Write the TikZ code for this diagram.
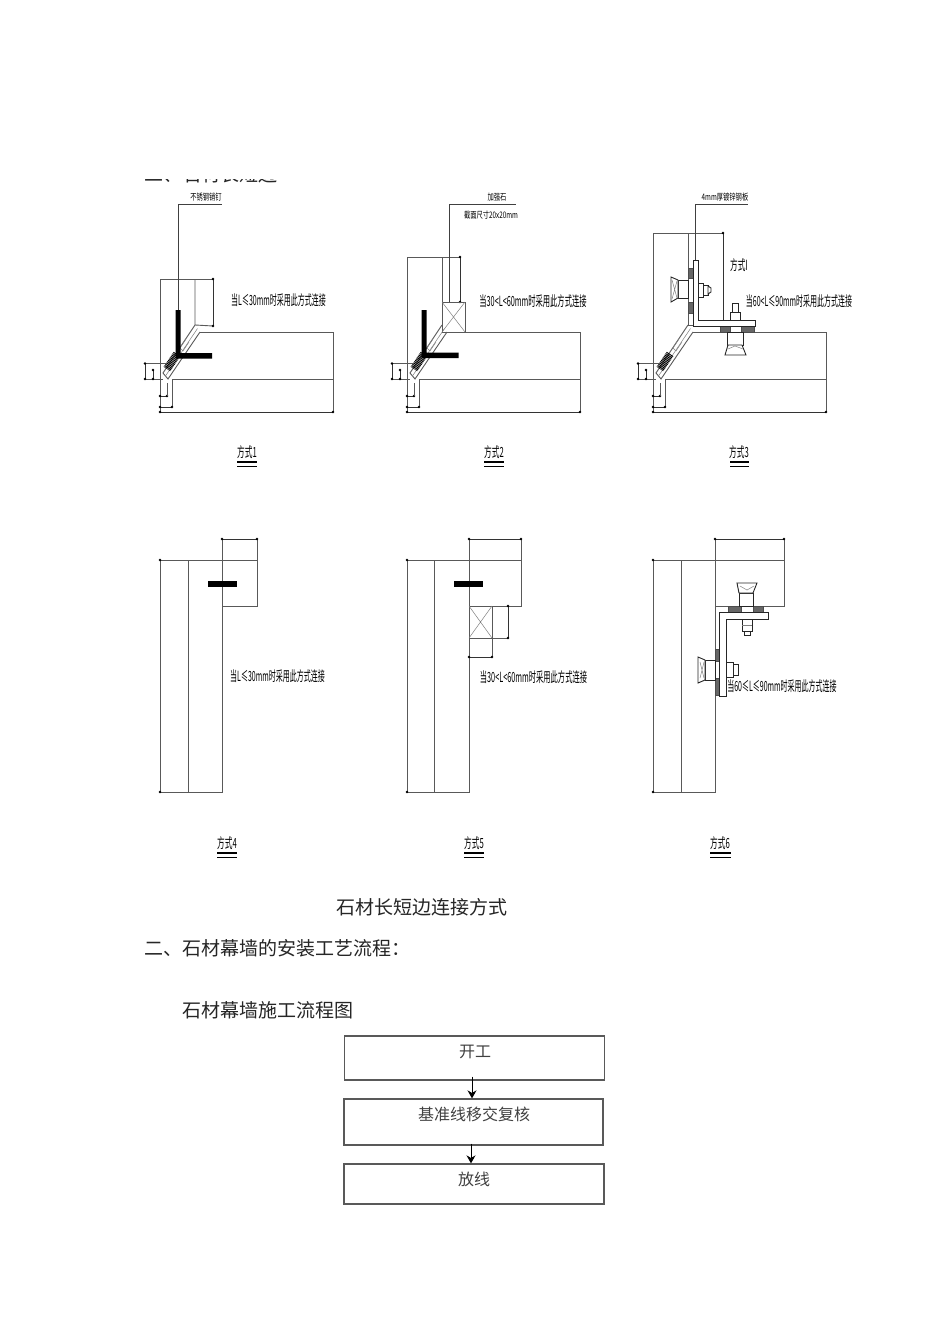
\documentclass[tikz,border=0pt]{standalone}
\usepackage{fontspec}
\setmainfont{Noto Sans CJK SC}
\usetikzlibrary{arrows.meta,positioning}

\tikzset{
    stoneline/.style={draw=black!65, line width=.9pt},
    thinline/.style={draw=black!50, line width=.5pt},
    leaderline/.style={draw=black!75, line width=.7pt},
    dimline/.style={draw=black!80, line width=.7pt},
    dimdot/.style={fill=black},
    blackbar/.style={draw=none, fill=black},
    gasket/.style={draw=black!70, line width=.4pt, fill=black!60},
    boltline/.style={draw=black!85, line width=.9pt, fill=white},
    cadnote/.style={inner sep=0pt, text=black},
    pagetext/.style={inner sep=0pt, font=\fontsize{19}{19}\selectfont, text=black!85, anchor=west},
    flowbox/.style={draw=black!65, line width=1.3pt, minimum width=260pt, inner sep=0pt},
    flowtext/.style={inner sep=0pt, font=\fontsize{16}{16}\selectfont, text=black!75},
    flowarrow/.style={draw=black, line width=1pt, -{Stealth[length=8pt,width=9pt]}},
}

% narrow lettering of the drawings
\newcommand{\cadnarrow}[2]{\scalebox{#1}[1]{#2}}
\newcommand{\cadbig}[1]{\fontsize{14}{14}\selectfont\cadnarrow{.5}{#1}}
\newcommand{\cadwide}[1]{\fontsize{14}{14}\selectfont\cadnarrow{.52}{#1}}
\newcommand{\cadway}[1]{\fontsize{14}{14}\selectfont\cadnarrow{.55}{#1}}
\newcommand{\cadsmall}[1]{\fontsize{9}{9}\selectfont\cadnarrow{.7}{#1}}
% dimension line with its two dots
\newcommand{\dimrule}[2]{
    \draw[dimline] #1 -- #2;
    \fill[dimdot] #1 circle (1.3) #2 circle (1.3);
}

% lower corner shared by the first three details
\newcommand{\cornerjoint}[1]{
    \begin{scope}[xshift=#1pt]
        \draw[stoneline] (200,332) -- (333,332) -- (333,412);
        \draw[stoneline] (172,379) -- (333,379);
        \draw[stoneline] (195,325) -- (163,373) -- (168,379) -- (200,332);
        \draw[thinline] (197.5,328.5) -- (165.5,376);
        \draw[thinline] (186,339) -- (180,348) -- (183,351) -- (189,342);
        \draw[draw=black, line width=8pt, dash pattern=on .9pt off .7pt] (177,354) -- (167,369);
        \draw[stoneline] (160,363) -- (160,412);
        \draw[stoneline] (172,379) -- (172,407);
        \draw[stoneline] (145,363.5) -- (167,363.5);
        \draw[stoneline] (145,379) -- (163,379);
        \dimrule{(145,363.5)}{(145,379)}
        \dimrule{(153,370)}{(153,379)}
        \dimrule{(160,396)}{(167,396)}
        \draw[stoneline] (167,383) -- (167,396);
        \dimrule{(160,407)}{(172,407)}
        \dimrule{(160,412)}{(333,412)}
    \end{scope}
}

\begin{document}
\begin{tikzpicture}[x=1pt,y=-1pt]
    \useasboundingbox (0,0) rectangle (950,1344);
    \fill[white] (0,0) rectangle (950,1344);

    % cut off heading
    \begin{scope}
        \clip (100,179) rectangle (320,183);
        \node[pagetext] (headcut) at (144,174) {二、石材长短边};
    \end{scope}

    % detail 1
    \cornerjoint{0}
    \draw[stoneline] (160,363) -- (160,279) -- (213,279);
    \draw[stoneline] (195,279) -- (195,325) -- (213,326);
    \dimrule{(213,279)}{(213,326)}
    \draw[leaderline] (178,310) -- (178,204) -- (222,204);
    \fill[blackbar] (175.5,310) rectangle (180.5,358.5) (175.5,353) rectangle (212,358.5);
    \node[cadnote] (pinnote) at (206,197) {\cadsmall{不锈钢销钉}};
    \node[cadnote] (noteone) at (278.5,300) {\cadbig{当L≤30mm时采用此方式连接}};
    \node[cadnote] (wayone) at (247,452) {\cadway{方式1}};
    \draw[draw=black, line width=1.8pt] (237,462) -- (257,462);
    \draw[draw=black, line width=.7pt] (237,466) -- (257,466);

    % detail 2
    \cornerjoint{247}
    \draw[stoneline] (407,363) -- (407,257) -- (460,257);
    \draw[stoneline] (442,257) -- (442,325);
    \dimrule{(460,257)}{(460,302)}
    \draw[stoneline] (442,302) rectangle (465,332);
    \draw[thinline] (442,302) -- (465,332) (465,302) -- (442,332);
    \draw[leaderline] (449,302) -- (449,204) -- (516,204);
    \fill[blackbar] (421.5,310) rectangle (426.5,358) (421.5,352.5) rectangle (458.5,358);
    \node[cadnote] (stonenote) at (497,197) {\cadsmall{加强石}};
    \node[cadnote] (sizenote) at (491,215) {\cadsmall{截面尺寸20x20mm}};
    \node[cadnote] (notetwo) at (533,301) {\cadwide{当30<L<60mm时采用此方式连接}};
    \node[cadnote] (waytwo) at (494,452) {\cadway{方式2}};
    \draw[draw=black, line width=1.8pt] (484,462) -- (504,462);
    \draw[draw=black, line width=.7pt] (484,466) -- (504,466);

    % detail 3
    \cornerjoint{493}
    \draw[stoneline] (653,363) -- (653,233) -- (723,233);
    \draw[stoneline] (688,233) -- (688,325) -- (723,325);
    \dimrule{(723,233)}{(723,325)}
    \draw[leaderline] (695,260) -- (695,204) -- (748,204);
    \draw[gasket] (688,268) rectangle (693,278) (688,302) rectangle (693,313);
    \draw[gasket] (720,326) rectangle (730,332) (741,326) rectangle (754,332);
    \draw[boltline] (693,260) -- (698,260) -- (698,320) -- (755,320) -- (755,326) -- (693,326) -- cycle;
    % bolt into the upper stone
    \draw[boltline] (678,280) rectangle (688,298);
    \draw[boltline] (671,277) -- (678,280) -- (678,298) -- (671,302) -- cycle;
    \draw[thinline] (672,280) -- (677,298) (677,281) -- (672,299);
    \draw[boltline] (698,283) rectangle (703,297);
    \draw[boltline] (703,285) rectangle (708,295);
    \draw[boltline] (708,286) -- (711,288) -- (711,292) -- (708,294) -- cycle;
    % bolt into the slab
    \draw[boltline] (727,332) rectangle (743,345);
    \draw[boltline] (728,345) -- (742,345) -- (746,355) -- (725,355) -- cycle;
    \draw[thinline] (728,349) -- (735,346) -- (743,349);
    \draw[boltline] (730,312) rectangle (740,320);
    \draw[boltline] (732,303) rectangle (738,312);
    \node[cadnote] (platenote) at (725,197) {\cadsmall{4mm厚镀锌钢板}};
    \node[cadnote] (waysub) at (739,265) {\cadway{方式I}};
    \node[cadnote] (notethree) at (799,301) {\cadbig{当60<L≤90mm时采用此方式连接}};
    \node[cadnote] (waythree) at (739,452) {\cadway{方式3}};
    \draw[draw=black, line width=1.8pt] (730,462) -- (749,462);
    \draw[draw=black, line width=.7pt] (730,466) -- (749,466);

    % detail 4
    \draw[stoneline] (160,560) -- (257,560) -- (257,606) -- (222,606);
    \draw[stoneline] (160,560) -- (160,792) -- (222,792) -- (222,539);
    \draw[stoneline] (188,560) -- (188,792);
    \draw[stoneline] (257,539) -- (257,560);
    \dimrule{(222,539)}{(257,539)}
    \fill[dimdot] (160,560) circle (1.3) (160,792) circle (1.3);
    \fill[blackbar] (208,580.5) rectangle (237,586.5);
    \node[cadnote] (notefour) at (277.5,676) {\cadbig{当L≤30mm时采用此方式连接}};
    \node[cadnote] (wayfour) at (227,843) {\cadway{方式4}};
    \draw[draw=black, line width=1.8pt] (217,853) -- (237,853);
    \draw[draw=black, line width=.7pt] (217,857) -- (237,857);

    % detail 5
    \draw[stoneline] (407,560) -- (521,560) -- (521,606) -- (469,606);
    \draw[stoneline] (407,560) -- (407,792) -- (469,792) -- (469,539);
    \draw[stoneline] (434,560) -- (434,792);
    \draw[stoneline] (521,539) -- (521,560);
    \dimrule{(469,539)}{(521,539)}
    \fill[dimdot] (407,560) circle (1.3) (407,792) circle (1.3);
    \draw[stoneline] (469,606) rectangle (492,638);
    \draw[thinline] (469,606) -- (492,638) (492,606) -- (469,638);
    \draw[stoneline] (492,606) -- (508,606) (469,638) -- (508,638);
    \dimrule{(508,606)}{(508,638)}
    \draw[stoneline] (469,638) -- (469,657) (492,638) -- (492,657);
    \dimrule{(469,657)}{(492,657)}
    \fill[blackbar] (454,580.5) rectangle (483,586.5);
    \node[cadnote] (notefive) at (533.5,677) {\cadwide{当30<L<60mm时采用此方式连接}};
    \node[cadnote] (wayfive) at (474,843) {\cadway{方式5}};
    \draw[draw=black, line width=1.8pt] (464,853) -- (484,853);
    \draw[draw=black, line width=.7pt] (464,857) -- (484,857);

    % detail 6
    \draw[stoneline] (653,560) -- (784,560) -- (784,606) -- (715,606);
    \draw[stoneline] (653,560) -- (653,792) -- (715,792) -- (715,539);
    \draw[stoneline] (681,560) -- (681,792);
    \draw[stoneline] (784,539) -- (784,560);
    \dimrule{(715,539)}{(784,539)}
    \fill[dimdot] (653,560) circle (1.3) (653,792) circle (1.3);
    \draw[gasket] (728,606) rectangle (741,612) (753,606) rectangle (763,612);
    \draw[gasket] (715,649) rectangle (719,661) (715,678) rectangle (719,695);
    \draw[boltline] (719,612) -- (768,612) -- (768,619) -- (726,619) -- (726,696) -- (719,696) -- cycle;
    % bolt into the upper stone
    \draw[boltline] (739,593) rectangle (753,606);
    \draw[boltline] (737,583) -- (757,583) -- (753,593) -- (739,593) -- cycle;
    \draw[thinline] (740,586) -- (747,590) -- (754,586);
    \draw[boltline] (742,619) rectangle (752,631);
    \draw[thinline] (742,625) -- (752,625);
    \draw[boltline] (744,631) rectangle (750,635);
    % bolt into the panel
    \draw[boltline] (705,660) rectangle (715,680);
    \draw[boltline] (698,657) -- (705,660) -- (705,680) -- (698,683) -- cycle;
    \draw[thinline] (700,662) -- (704,678) (704,662) -- (700,678);
    \draw[boltline] (726,662) rectangle (733,677);
    \draw[boltline] (733,664) rectangle (738,675);
    \node[cadnote] (notesix) at (782,686) {\cadbig{当60≤L≤90mm时采用此方式连接}};
    \node[cadnote] (waysix) at (720,843) {\cadway{方式6}};
    \draw[draw=black, line width=1.8pt] (710,853) -- (731,853);
    \draw[draw=black, line width=.7pt] (710,857) -- (731,857);

    % page text
    \node[pagetext] (captiontext) at (336,907) {石材长短边连接方式};
    \node[pagetext] (sectiontext) at (144,948) {二、石材幕墙的安装工艺流程：};
    \node[pagetext] (charttitle) at (182,1010) {石材幕墙施工流程图};

    % flow chart
    \node[flowbox, minimum height=44pt] (startbox) at (474.5,1058) {};
    \node[flowbox, minimum height=46pt, minimum width=259pt] (linebox) at (473.5,1122) {};
    \node[flowbox, minimum height=40pt] (setbox) at (474,1184) {};
    \node[flowtext] (starttext) at (475,1052) {开工};
    \node[flowtext] (linetext) at (474,1114) {基准线移交复核};
    \node[flowtext] (settext) at (474,1179) {放线};
    \draw[flowarrow] ([xshift=-2.5pt,yshift=4pt]startbox.south) -- ([xshift=-1.5pt]linebox.north);
    \draw[flowarrow] ([xshift=-2.5pt,yshift=2pt]linebox.south) -- ([xshift=-3pt]setbox.north);
\end{tikzpicture}
\end{document}
